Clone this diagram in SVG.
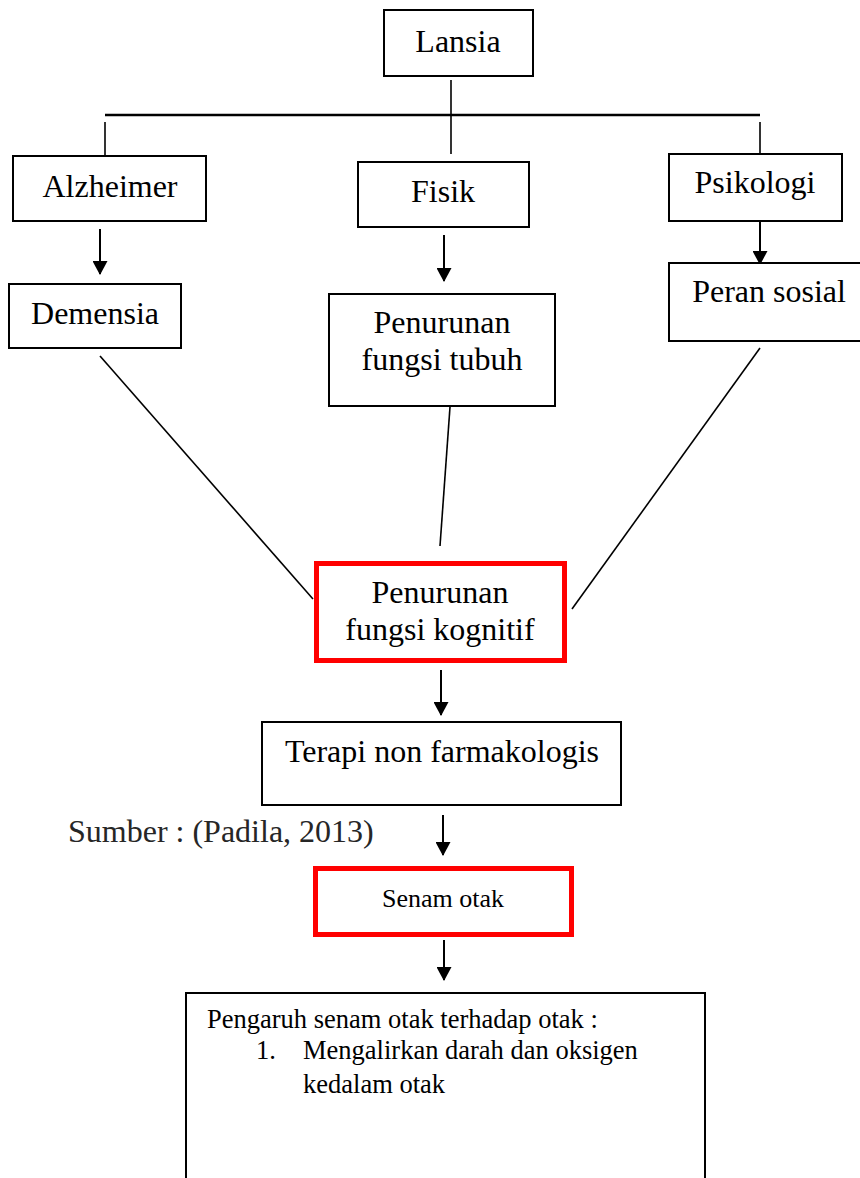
<svg xmlns="http://www.w3.org/2000/svg" width="860" height="1178" viewBox="0 0 860 1178">
<style>
.box{fill:#fff;stroke:#000;stroke-width:2}
.red{fill:#fff;stroke:#ff0000;stroke-width:5}
.t{font-family:"Liberation Serif","Times New Roman",serif;font-size:32px;fill:#000;text-anchor:middle}
.s{font-family:"Liberation Serif","Times New Roman",serif;font-size:26.5px;fill:#000}
.ln{stroke:#000;stroke-width:1.6;fill:none}
.ar{stroke:#000;stroke-width:2;fill:none;marker-end:url(#ah)}
</style>
<defs>
<marker id="ah" viewBox="0 0 14 15" refX="13" refY="7.5" markerWidth="14" markerHeight="15" markerUnits="userSpaceOnUse" orient="auto">
<path d="M0,0 L14,7.5 L0,15 z" fill="#000"/>
</marker>
</defs>
<rect width="860" height="1178" fill="#fff"/>
<g id="connectors">
<line class="ln" x1="451" y1="80" x2="451" y2="115"/>
<line x1="105" y1="115" x2="760" y2="115" stroke="#000" stroke-width="2.6"/>
<line class="ln" x1="105" y1="122" x2="105" y2="156"/>
<line class="ln" x1="451" y1="115" x2="451" y2="154"/>
<line class="ln" x1="760" y1="122" x2="760" y2="154"/>
<line class="ar" x1="100" y1="229" x2="100" y2="274"/>
<line class="ar" x1="444" y1="235" x2="444" y2="281"/>
<line class="ar" x1="760" y1="221" x2="760" y2="264"/>
<line class="ln" x1="100" y1="356" x2="313" y2="599"/>
<line class="ln" x1="450" y1="407" x2="440" y2="546"/>
<line class="ln" x1="760" y1="348" x2="572" y2="609"/>
<line class="ar" x1="441" y1="670" x2="441" y2="715"/>
<line class="ar" x1="443" y1="815" x2="443" y2="855"/>
<line class="ar" x1="444" y1="940" x2="444" y2="980"/>
</g>
<g id="lansia">
<rect class="box" x="384" y="10" width="149" height="66"/>
<text class="t" x="458" y="52">Lansia</text>
</g>
<g id="alzheimer">
<rect class="box" x="13" y="156" width="193" height="65"/>
<text class="t" x="110" y="197">Alzheimer</text>
</g>
<g id="fisik">
<rect class="box" x="358" y="162" width="171" height="65"/>
<text class="t" x="443" y="202">Fisik</text>
</g>
<g id="psikologi">
<rect class="box" x="669" y="154" width="173" height="67"/>
<text class="t" x="755" y="193">Psikologi</text>
</g>
<g id="demensia">
<rect class="box" x="9" y="284" width="172" height="64"/>
<text class="t" x="95" y="324">Demensia</text>
</g>
<g id="penurunan-fungsi-tubuh">
<rect class="box" x="329" y="294" width="226" height="112"/>
<text class="t" x="442" y="333">Penurunan</text>
<text class="t" x="442" y="370">fungsi tubuh</text>
</g>
<g id="peran-sosial">
<rect class="box" x="669" y="263" width="195" height="78"/>
<text class="t" x="769" y="302">Peran sosial</text>
</g>
<g id="penurunan-fungsi-kognitif">
<rect class="red" x="316.5" y="563.5" width="248" height="97"/>
<text class="t" x="440" y="603">Penurunan</text>
<text class="t" x="440" y="640">fungsi kognitif</text>
</g>
<g id="terapi">
<rect class="box" x="262" y="722" width="359" height="83"/>
<text class="t" x="442" y="762">Terapi non farmakologis</text>
</g>
<g id="sumber">
<text x="68" y="842" font-family="'Liberation Serif','Times New Roman',serif" font-size="32" fill="#262626">Sumber : (Padila, 2013)</text>
</g>
<g id="senam-otak">
<rect class="red" x="315.5" y="868.5" width="256" height="66"/>
<text class="t" x="443" y="907" style="font-size:26px">Senam otak</text>
</g>
<g id="pengaruh">
<path d="M186,1190 V993 H705 V1190" fill="#fff" stroke="#000" stroke-width="2"/>
<text class="s" x="207" y="1028">Pengaruh senam otak terhadap otak :</text>
<text class="s" x="256" y="1059">1.</text>
<text class="s" x="303" y="1059">Mengalirkan darah dan oksigen</text>
<text class="s" x="303" y="1093">kedalam otak</text>
</g>
</svg>
